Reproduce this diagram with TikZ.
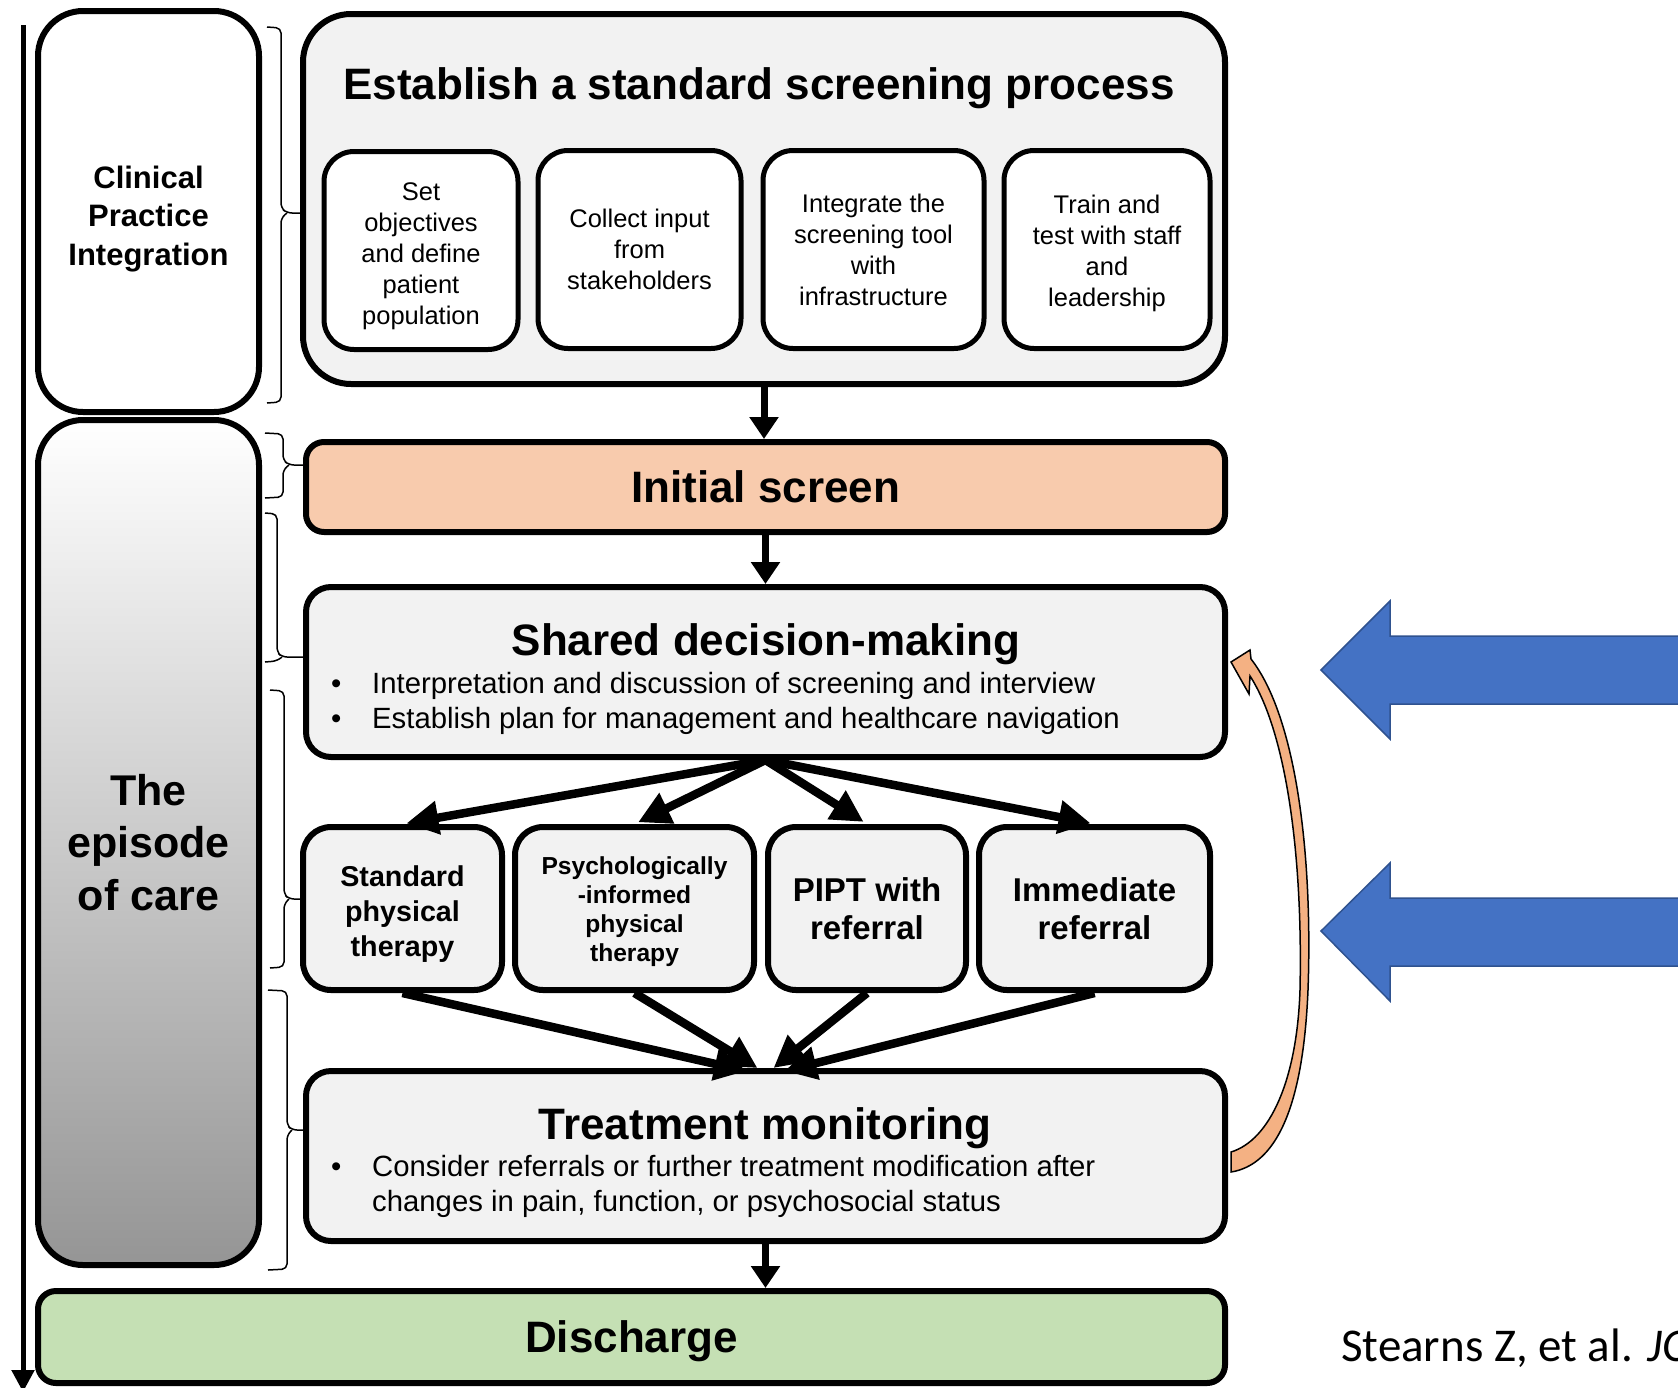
\documentclass[tikz,border=0pt]{standalone}
\usepackage{fontspec}
\setmainfont{Liberation Sans}
\newfontfamily\citefont{Carlito}
\usetikzlibrary{arrows.meta}
\definecolor{boxgray}{HTML}{F2F2F2}
\definecolor{peach}{HTML}{F8CBAD}
\definecolor{sage}{HTML}{C5E0B4}
\definecolor{blueA}{HTML}{4472C4}
\definecolor{blueE}{HTML}{2F528F}
\definecolor{orangeA}{HTML}{F4B183}
\definecolor{shadegray}{HTML}{959595}
\newcommand{\fsz}[2]{\fontsize{#1pt}{#2pt}\selectfont}
\begin{document}
\begin{tikzpicture}[x=1pt,y=-1pt,
  box/.style={draw=black, line width=6pt, rectangle, rounded corners=#1, inner sep=0pt, align=center},
  subbox/.style={box=30pt, fill=white, line width=5pt, minimum height=198pt, font=\fsz{25.5}{31}},
  subtext/.style={align=center, inner sep=0pt, font=\fsz{25.5}{31}},
  optbox/.style={box=28pt, fill=boxgray, line width=6pt, minimum height=163pt},
  brace/.style={draw=black, line width=1.5pt, rounded corners=5pt},
  varrow/.style={line width=7pt, -{Triangle[length=22pt,width=28pt]}},
  fan/.style={line width=8.5pt, -{Triangle[length=32pt,width=32pt]}},
  heading/.style={font=\bfseries\fsz{44}{50}, anchor=base, inner sep=0pt},
  bullettext/.style={font=\fsz{29.3}{35}, anchor=base west, inner sep=0pt},
  bigarrow/.style={fill=blueA, draw=blueE, line width=1.5pt}
]
\useasboundingbox (0,0) rectangle (1678,1387);
\clip (0,0) rectangle (1678,1387);

% left timeline arrow
\coordinate (tlTop) at (23,25);
\coordinate (tlBot) at (23,1392);
\draw[line width=5pt, -{Triangle[length=22pt,width=22pt]}] (tlTop) -- (tlBot);

% left column
\node[box=45pt, fill=white, minimum width=221pt, minimum height=401pt] (cpi) at (148.5,211.5) {};
\node[align=center, inner sep=0pt, font=\bfseries\fsz{31}{38.5}] (cpitext) at (148.5,219) {Clinical\\Practice\\Integration};
\node[box=45pt, top color=white, bottom color=shadegray, minimum width=221pt, minimum height=845pt,
      font=\bfseries\fsz{43}{52.5}] (epi) at (148.5,842.5) {The\\episode\\of care};

% top box
\node[box=48pt, fill=boxgray, minimum width=922pt, minimum height=370pt] (top) at (764,199) {};
\node[heading] (toptitle) at (759,99) {Establish a standard screening process};
\node[subbox, minimum width=194pt] (s1) at (421,250.5) {};
\node[subtext] (s1text) at (421,256) {Set\\objectives\\and define\\patient\\population};
\node[subbox, minimum width=203pt] (s2) at (639.5,249.5) {Collect input\\from\\stakeholders};
\node[subbox, minimum width=221pt] (s3) at (873.5,249.5) {Integrate the\\screening tool\\with\\infrastructure};
\node[subbox, minimum width=206pt] (s4) at (1107,249.5) {};
\node[subtext] (s4text) at (1107,253.5) {Train and\\test with staff\\and\\leadership};

% initial screen
\node[box=18pt, fill=peach, minimum width=919pt, minimum height=90pt,
      font=\bfseries\fsz{44}{50}] (init) at (765.5,487) {Initial screen};

% shared decision-making
\node[box=25pt, fill=boxgray, minimum width=919pt, minimum height=170pt] (shared) at (765.5,672) {};
\node[heading] (sharedtitle) at (766,655) {Shared decision-making};
\node[bullettext] (sd1) at (331,693) {•};
\node[bullettext] (sd1t) at (372,693) {Interpretation and discussion of screening and interview};
\node[bullettext] (sd2) at (331,728) {•};
\node[bullettext] (sd2t) at (372,728) {Establish plan for management and healthcare navigation};

% options
\node[optbox, minimum width=199pt] (std) at (402.5,908.5) {};
\node[align=center, inner sep=0pt, font=\bfseries\fsz{28.7}{35.3}] (stdtext) at (402.5,914) {Standard\\physical\\therapy};
\node[optbox, minimum width=239pt] (psy) at (634.5,908.5) {};
\node[align=center, inner sep=0pt, font=\bfseries\fsz{24.6}{29.2}] (psytext) at (634.5,911.5) {Psychologically\\-informed\\physical\\therapy};
\node[optbox, minimum width=198pt, font=\bfseries\fsz{33}{38.5}] (pipt) at (867,908.5) {PIPT with\\referral};
\node[optbox, minimum width=231pt, font=\bfseries\fsz{33}{38.5}] (imm) at (1094.5,908.5) {Immediate\\referral};

% treatment monitoring
\node[box=25pt, fill=boxgray, minimum width=919pt, minimum height=170pt] (treat) at (765.5,1156) {};
\node[heading] (treattitle) at (765,1139) {Treatment monitoring};
\node[bullettext] (tm1) at (331,1176) {•};
\node[bullettext] (tm1t) at (372,1176) {Consider referrals or further treatment modification after};
\node[bullettext] (tm2t) at (372,1211) {changes in pain, function, or psychosocial status};

% discharge
\node[box=18pt, fill=sage, minimum width=1187pt, minimum height=92pt,
      font=\bfseries\fsz{44}{50}, text depth=0pt] (dis) at (631.5,1337) {Discharge};

% vertical arrows
\draw[varrow] (top.south) -- (top.south |- init.north);
\draw[varrow] (init.south) -- (init.south |- shared.north);
\draw[varrow] (treat.south) -- (treat.south |- dis.north);

% fan out
\draw[fan, shorten >=4pt] (shared.south) -- (std.north);
\draw[fan, shorten >=4pt] (shared.south) -- (psy.north);
\draw[fan, shorten >=4pt] (shared.south) -- (pipt.north);
\draw[fan, shorten >=4pt] (shared.south) -- (imm.north);
% fan in
\draw[fan] (std.south) -- ([shift={(-19pt,-3pt)}]treat.north);
\draw[fan] (psy.south) -- ([shift={(-8pt,0pt)}]treat.north);
\draw[fan] (pipt.south) -- ([shift={(8pt,0pt)}]treat.north);
\draw[fan] (imm.south) -- ([shift={(19pt,-3pt)}]treat.north);

% braces
\draw[brace] (267,27) -- (281,28) -- (281,208) -- (287,213) -- (300,213);
\draw[brace] (287,213) -- (281,218) -- (281,402) -- (267,403);
\draw[brace] (265,433) -- (283,434) -- (283,460) -- (289,465) -- (303,465);
\draw[brace] (289,465) -- (283,470) -- (283,497) -- (265,498);
\draw[brace] (265,513) -- (277,514) -- (277,652) -- (282,657) -- (303,657);
\draw[brace] (282,657) -- (277,661) -- (265,662);
\draw[brace] (270,690) -- (284,691) -- (284,894) -- (289,899) -- (300,899);
\draw[brace] (289,899) -- (284,904) -- (284,967) -- (270,968);
\draw[brace] (268,990) -- (287,991) -- (287,1125) -- (292,1130) -- (303,1130);
\draw[brace] (292,1130) -- (287,1135) -- (287,1269) -- (268,1270);

% curved feedback arrow
\filldraw[fill=orangeA, draw=black, line width=1.5pt]
  (1231,662) -- (1250,650) -- (1251,659)
  .. controls (1295,715) and (1313,850) .. (1308,990)
  .. controls (1303,1110) and (1275,1165) .. (1231,1172)
  -- (1231,1152)
  .. controls (1270,1140) and (1297,1080) .. (1300,990)
  .. controls (1303,850) and (1285,730) .. (1250,676)
  -- (1249,694) -- cycle;

% blue arrows
\filldraw[bigarrow] (1321,670) -- (1390,601) -- (1390,636) -- (1700,636) -- (1700,704) -- (1390,704) -- (1390,739) -- cycle;
\filldraw[bigarrow] (1321,931) -- (1390,863) -- (1390,898) -- (1700,898) -- (1700,966) -- (1390,966) -- (1390,1001) -- cycle;

% citation
\node[anchor=base west, inner sep=0pt, font=\citefont\fsz{47}{56}] (cite) at (1341,1361) {Stearns Z, et al. \textit{JO}};
\end{tikzpicture}
\end{document}
